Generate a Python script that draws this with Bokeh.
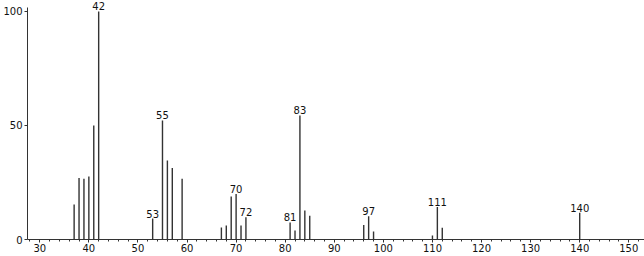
from bokeh.plotting import figure
from bokeh.models import Range1d, FixedTicker, ColumnDataSource
from bokeh.core.properties import value
from bokeh.embed import file_html
from bokeh.resources import INLINE

# m/z values and relative intensities
mz = [37, 38, 39, 40, 41, 42, 53, 55, 56, 57, 59, 67, 68, 69, 70, 71, 72,
      81, 82, 83, 84, 85, 96, 97, 98, 110, 111, 112, 140]
intensity = [15.4, 27.0, 26.6, 27.6, 50.0, 100.0, 9.2, 52.2, 34.6, 31.4, 26.6,
             5.3, 6.1, 18.9, 20.0, 6.1, 9.8, 7.5, 3.9, 54.4, 12.7, 10.4,
             6.4, 10.2, 3.5, 1.8, 14.2, 5.1, 11.7]
labeled_mz = [42, 53, 55, 70, 72, 81, 83, 97, 111, 140]

x_ticks = [30, 40, 50, 60, 70, 80, 90, 100, 110, 120, 130, 140, 150]
x_minor = list(range(28, 154, 2))
y_ticks = [0, 50, 100]

FONT = "DejaVu Sans"

lab_y = [intensity[mz.index(m)] for m in labeled_mz]
src = ColumnDataSource(dict(x=mz, y0=[0] * len(mz), y1=intensity))
lsrc = ColumnDataSource(dict(x=labeled_mz, y=lab_y, t=[str(m) for m in labeled_mz]))

p = figure(width=644, height=256, output_backend="svg", toolbar_location=None,
           x_range=Range1d(27.5, 153.2), y_range=Range1d(0, 104.8),
           min_border_left=25, min_border_right=0, min_border_top=0,
           min_border_bottom=17)
p.outline_line_color = None
p.xgrid.visible = False
p.ygrid.visible = False
p.background_fill_color = "white"
p.border_fill_color = "white"

p.segment(x0="x", y0="y0", x1="x", y1="y1", source=src,
          line_color="#333333", line_width=1.4)
p.text(x="x", y="y", text="t", source=lsrc, text_align="center",
       text_baseline="bottom", y_offset=-1, text_font=value(FONT),
       text_font_size="10px", text_color="#111111")

xa = p.xaxis[0]
xa.ticker = FixedTicker(ticks=x_ticks, minor_ticks=x_minor)
xa.major_tick_in = 0
xa.major_tick_out = 3
xa.minor_tick_in = 0
xa.minor_tick_out = 2
xa.major_label_standoff = 1
xa.major_label_text_font = FONT
xa.major_label_text_font_size = "10px"
xa.major_label_text_color = "#111111"
xa.axis_line_color = "#333333"
xa.major_tick_line_color = "#333333"
xa.minor_tick_line_color = "#333333"

ya = p.yaxis[0]
ya.ticker = FixedTicker(ticks=y_ticks, minor_ticks=[])
ya.bounds = (0, 101.8)
ya.major_tick_in = 0
ya.major_tick_out = 3
ya.minor_tick_out = 0
ya.major_label_standoff = 2
ya.major_label_text_font = FONT
ya.major_label_text_font_size = "10px"
ya.major_label_text_color = "#111111"
ya.axis_line_color = "#333333"
ya.major_tick_line_color = "#333333"

open("out.html", "w").write(file_html(p, INLINE))
